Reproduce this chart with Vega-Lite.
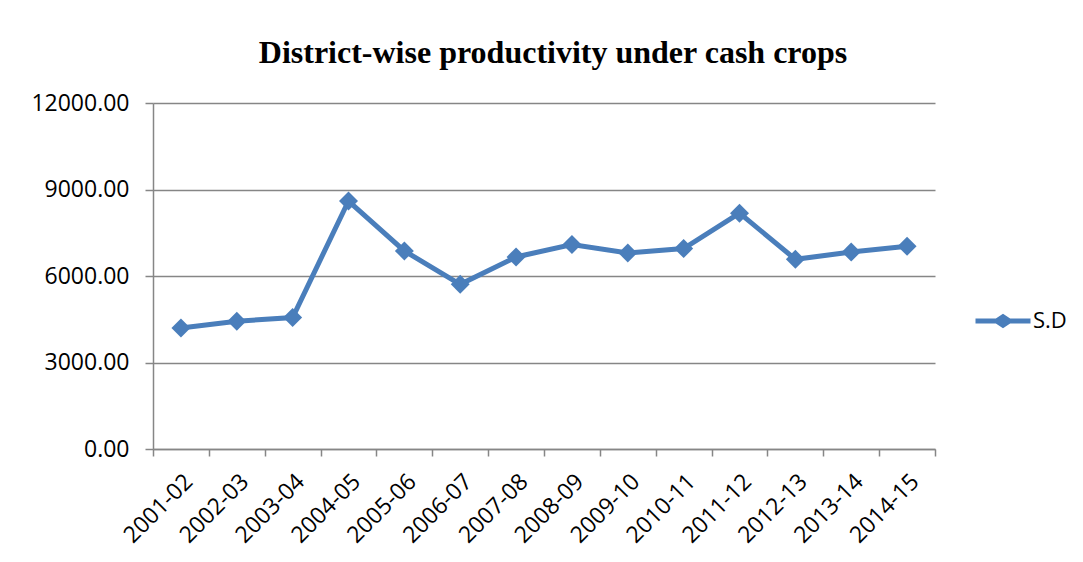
{
  "$schema": "https://vega.github.io/schema/vega-lite/v6.json",
  "width": 782,
  "height": 346,
  "autosize": {"type": "none"},
  "padding": {"left": 153, "top": 103, "right": 148, "bottom": 113},
  "background": "white",
  "title": {
    "text": "District-wise productivity under cash crops",
    "font": "Liberation Serif",
    "fontSize": 32,
    "fontWeight": "bold",
    "color": "#000000",
    "anchor": "middle",
    "dx": 9,
    "offset": 22
  },
  "config": {
    "view": {"stroke": null},
    "axis": {
      "labelFont": "Open Sans",
      "labelColor": "#000000",
      "domainColor": "#868686",
      "domainWidth": 1.5,
      "tickColor": "#868686",
      "tickWidth": 1.5,
      "gridColor": "#868686",
      "gridWidth": 1.5,
      "title": null
    }
  },
  "data": {
    "values": [
      {"year": "2001-02", "value": 4200, "series": "S.D"},
      {"year": "2002-03", "value": 4430, "series": "S.D"},
      {"year": "2003-04", "value": 4560, "series": "S.D"},
      {"year": "2004-05", "value": 8600, "series": "S.D"},
      {"year": "2005-06", "value": 6870, "series": "S.D"},
      {"year": "2006-07", "value": 5710, "series": "S.D"},
      {"year": "2007-08", "value": 6660, "series": "S.D"},
      {"year": "2008-09", "value": 7090, "series": "S.D"},
      {"year": "2009-10", "value": 6800, "series": "S.D"},
      {"year": "2010-11", "value": 6950, "series": "S.D"},
      {"year": "2011-12", "value": 8180, "series": "S.D"},
      {"year": "2012-13", "value": 6580, "series": "S.D"},
      {"year": "2013-14", "value": 6830, "series": "S.D"},
      {"year": "2014-15", "value": 7030, "series": "S.D"}
    ]
  },
  "encoding": {
    "x": {
      "field": "year",
      "type": "ordinal",
      "sort": null,
      "scale": {"type": "band", "paddingInner": 0, "paddingOuter": 0},
      "axis": {
        "labelAngle": -45,
        "labelFontSize": 23,
        "labelPadding": 14,
        "tickBand": "extent",
        "tickSize": 7,
        "grid": false
      }
    },
    "y": {
      "field": "value",
      "type": "quantitative",
      "scale": {"domain": [0, 12000], "nice": false},
      "axis": {
        "values": [0, 3000, 6000, 9000, 12000],
        "format": ".2f",
        "labelFontSize": 23,
        "labelPadding": 16,
        "tickSize": 8,
        "grid": true
      }
    },
    "color": {
      "field": "series",
      "type": "nominal",
      "scale": {"range": ["#4A7EBB"]},
      "legend": {
        "orient": "none",
        "legendX": 839,
        "legendY": 207,
        "title": null,
        "labelFont": "Open Sans",
        "labelFontSize": 22,
        "labelColor": "#000000",
        "labelOffset": 19,
        "padding": 0,
        "symbolSize": 484,
        "encode": {
          "symbols": {
            "update": {
              "shape": {"value": "M-2.5,-0.22L-0.65,-0.22L0,-0.65L0.65,-0.22L2.5,-0.22L2.5,0.22L0.65,0.22L0,0.65L-0.65,0.22L-2.5,0.22Z"},
              "fill": {"value": "#4A7EBB"},
              "stroke": {"value": "transparent"},
              "strokeWidth": {"value": 0},
              "size": {"value": 484},
              "opacity": {"value": 1}
            }
          }
        }
      }
    }
  },
  "layer": [
    {"mark": {"type": "line", "strokeWidth": 5}},
    {"mark": {"type": "point", "shape": "diamond", "filled": true, "size": 360, "opacity": 1}}
  ]
}
